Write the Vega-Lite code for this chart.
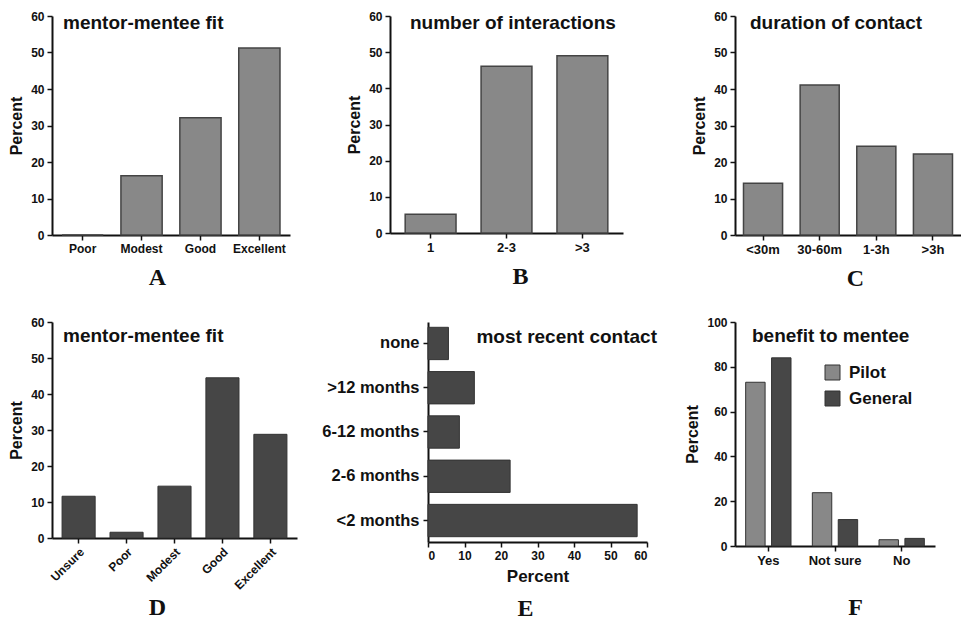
{
  "$schema": "https://vega.github.io/schema/vega-lite/v6.json",
  "padding": {"left": 8, "top": 10, "right": 0, "bottom": 0},
  "background": "white",
  "datasets": {
    "a": [{"cat": "Poor", "pct": 0}, {"cat": "Modest", "pct": 16.2}, {"cat": "Good", "pct": 32.1}, {"cat": "Excellent", "pct": 51.2}],
    "b": [{"cat": "1", "pct": 5.2}, {"cat": "2-3", "pct": 46.1}, {"cat": ">3", "pct": 49}],
    "c": [{"cat": "<30m", "pct": 14.2}, {"cat": "30-60m", "pct": 41.1}, {"cat": "1-3h", "pct": 24.3}, {"cat": ">3h", "pct": 22.2}],
    "d": [{"cat": "Unsure", "pct": 11.6}, {"cat": "Poor", "pct": 1.6}, {"cat": "Modest", "pct": 14.4}, {"cat": "Good", "pct": 44.5}, {"cat": "Excellent", "pct": 28.8}],
    "e": [{"cat": "none", "pct": 5.6}, {"cat": ">12 months", "pct": 12.7}, {"cat": "6-12 months", "pct": 8.6}, {"cat": "2-6 months", "pct": 22.5}, {"cat": "<2 months", "pct": 57.3}],
    "f": [{"resp": "Yes", "group": "Pilot", "pct": 73.1}, {"resp": "Yes", "group": "General", "pct": 84}, {"resp": "Not sure", "group": "Pilot", "pct": 23.8}, {"resp": "Not sure", "group": "General", "pct": 11.8}, {"resp": "No", "group": "Pilot", "pct": 2.8}, {"resp": "No", "group": "General", "pct": 3.4}]
  },
  "spacing": 26,
  "resolve": {"legend": {"color": "independent"}},
  "vconcat": [
    {
      "spacing": 0,
      "bounds": "flush",
      "hconcat": [
        {
          "width": 238, "height": 219,
          "data": {"name": "a"},
          "title": {"text": "mentor-mentee fit", "offset": -23, "dx": 11},
          "mark": {"type": "bar", "color": "#888888", "stroke": "#444444", "strokeWidth": 1.5},
          "encoding": {
            "x": {"field": "cat", "type": "nominal", "sort": null, "scale": {"paddingInner": 0.3, "paddingOuter": 0.17}, "axis": {"title": "A", "titleX": 105, "titlePadding": 11, "labelFontSize": 12}},
            "y": {"field": "pct", "type": "quantitative", "scale": {"domain": [0, 60], "nice": false}, "axis": {"title": "Percent", "values": [0, 10, 20, 30, 40, 50, 60]}}
          }
        },
        {"width": 100, "height": 10, "data": {"values": [{"s": 0}]}, "mark": {"type": "point", "opacity": 0}, "encoding": {}},
        {
          "width": 233, "height": 217,
          "data": {"name": "b"},
          "title": {"text": "number of interactions", "offset": -23, "dx": 20},
          "mark": {"type": "bar", "color": "#888888", "stroke": "#444444", "strokeWidth": 1.5},
          "encoding": {
            "x": {"field": "cat", "type": "nominal", "sort": null, "scale": {"paddingInner": 0.33, "paddingOuter": 0.2}, "axis": {"title": "B", "titleX": 130, "titlePadding": 10, "labelFontSize": 13}},
            "y": {"field": "pct", "type": "quantitative", "scale": {"domain": [0, 60], "nice": false}, "axis": {"title": "Percent", "values": [0, 10, 20, 30, 40, 50, 60]}}
          }
        },
        {"width": 112, "height": 10, "data": {"values": [{"s": 0}]}, "mark": {"type": "point", "opacity": 0}, "encoding": {}},
        {
          "width": 226, "height": 219,
          "data": {"name": "c"},
          "title": {"text": "duration of contact", "offset": -23, "dx": 15},
          "mark": {"type": "bar", "color": "#888888", "stroke": "#444444", "strokeWidth": 1.5},
          "encoding": {
            "x": {"field": "cat", "type": "nominal", "sort": null, "scale": {"paddingInner": 0.31, "paddingOuter": 0.15}, "axis": {"title": "C", "titleX": 120, "titlePadding": 10, "labelFontSize": 13}},
            "y": {"field": "pct", "type": "quantitative", "scale": {"domain": [0, 60], "nice": false}, "axis": {"title": "Percent", "values": [0, 10, 20, 30, 40, 50, 60]}}
          }
        }
      ]
    },
    {
      "spacing": 0,
      "bounds": "flush",
      "resolve": {"legend": {"color": "independent"}},
      "hconcat": [
        {
          "width": 245, "height": 216,
          "data": {"name": "d"},
          "title": {"text": "mentor-mentee fit", "offset": -30, "dx": 11},
          "mark": {"type": "bar", "color": "#464646", "stroke": "#333333", "strokeWidth": 1},
          "encoding": {
            "x": {"field": "cat", "type": "nominal", "sort": null, "scale": {"paddingInner": 0.31, "paddingOuter": 0.21}, "axis": {"title": "D", "titleX": 105, "titlePadding": 4, "labelAngle": -45, "labelFontSize": 12}},
            "y": {"field": "pct", "type": "quantitative", "scale": {"domain": [0, 60], "nice": false}, "axis": {"title": "Percent", "values": [0, 10, 20, 30, 40, 50, 60]}}
          }
        },
        {"width": 131, "height": 10, "data": {"values": [{"s": 0}]}, "mark": {"type": "point", "opacity": 0}, "encoding": {}},
        {
          "width": 219, "height": 220,
          "data": {"name": "e"},
          "title": {"text": "most recent contact", "offset": -25, "dx": 10, "anchor": "end"},
          "layer": [
            {
              "mark": {"type": "bar", "color": "#464646", "stroke": "#333333", "strokeWidth": 1},
              "encoding": {
                "y": {"field": "cat", "type": "nominal", "sort": null, "scale": {"paddingInner": 0.27, "paddingOuter": 0.12}, "axis": {"title": null, "labelFontSize": 16.5, "labelPadding": 4}},
                "x": {"field": "pct", "type": "quantitative", "scale": {"domain": [0, 60], "nice": false}, "axis": {"title": "Percent", "values": [0, 10, 20, 30, 40, 50, 60], "titleFont": "Liberation Sans", "titleFontSize": 17, "titlePadding": 7}}
              }
            },
            {
              "mark": {"type": "bar", "opacity": 0},
              "encoding": {
                "y": {"field": "cat", "type": "nominal", "sort": null},
                "x": {"field": "pct", "type": "quantitative", "scale": {"domain": [0, 60], "nice": false}, "axis": {"orient": "bottom", "title": "E", "labels": false, "ticks": false, "domain": false, "titleX": 97, "titlePadding": 54}}
              }
            }
          ],
          "resolve": {"scale": {"x": "independent"}, "axis": {"x": "independent"}}
        },
        {"width": 88, "height": 10, "data": {"values": [{"s": 0}]}, "mark": {"type": "point", "opacity": 0}, "encoding": {}},
        {
          "width": 200, "height": 224,
          "data": {"name": "f"},
          "title": {"text": "benefit to mentee", "offset": -30, "dx": 17},
          "mark": {"type": "bar", "stroke": "#333333", "strokeWidth": 1},
          "encoding": {
            "x": {"field": "resp", "type": "nominal", "sort": null, "scale": {"paddingInner": 0.32, "paddingOuter": 0.16}, "axis": {"title": "F", "titleX": 120, "titlePadding": 28, "labelFontSize": 13}},
            "xOffset": {"field": "group", "type": "nominal", "sort": ["Pilot", "General"], "scale": {"paddingInner": 0.25, "paddingOuter": 0}},
            "y": {"field": "pct", "type": "quantitative", "scale": {"domain": [0, 100], "nice": false}, "axis": {"title": "Percent", "values": [0, 20, 40, 60, 80, 100]}},
            "color": {"field": "group", "type": "nominal", "scale": {"domain": ["Pilot", "General"], "range": ["#888888", "#474747"]},
              "legend": {"orient": "none", "legendX": 89, "legendY": 42, "title": null, "symbolType": "square", "symbolSize": 225, "symbolStrokeColor": "#333333", "symbolStrokeWidth": 1, "symbolOpacity": 1, "labelFontSize": 17, "labelFont": "Liberation Sans", "labelFontWeight": "bold", "labelColor": "#111111", "rowPadding": 7, "labelOffset": 8}}
          }
        }
      ]
    }
  ],
  "config": {
    "view": {"stroke": null},
    "axis": {"domainColor": "#111111", "domainWidth": 2, "tickColor": "#111111", "tickWidth": 1.5, "tickSize": 5, "labelFont": "Liberation Sans", "labelFontWeight": "bold", "labelFontSize": 12, "labelColor": "#111111", "labelPadding": 3, "grid": false, "titleFont": "Liberation Sans", "titleFontWeight": "bold", "titleFontSize": 16, "titleColor": "#111111"},
    "axisX": {"titleFont": "Liberation Serif", "titleFontSize": 24, "labelAngle": 0},
    "axisY": {"titlePadding": 6},
    "title": {"font": "Liberation Sans", "fontSize": 19, "fontWeight": "bold", "color": "#111111", "anchor": "start", "frame": "group", "baseline": "alphabetic"}
  }
}
